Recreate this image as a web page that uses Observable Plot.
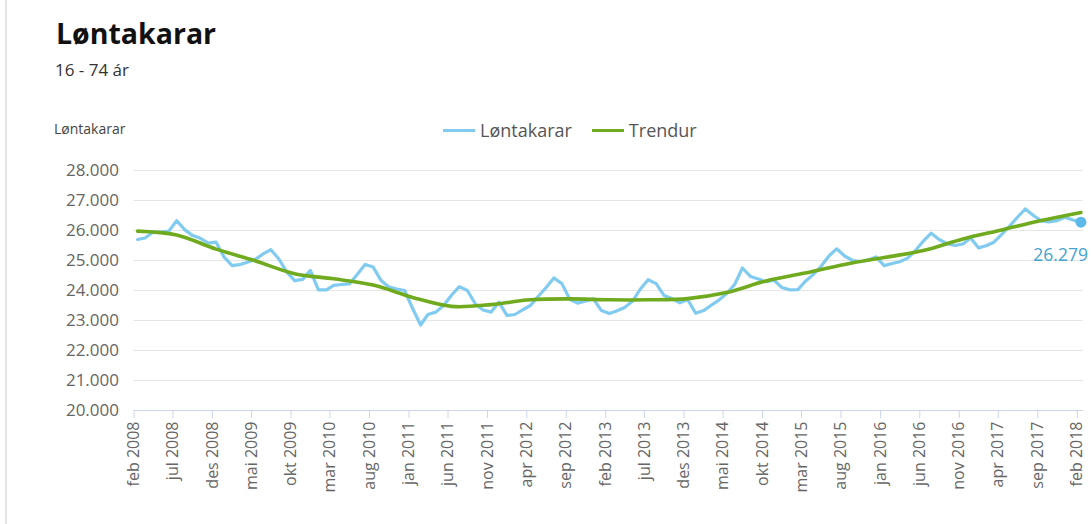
<!DOCTYPE html>
<html><head><meta charset="utf-8">
<script src="https://cdn.jsdelivr.net/npm/d3@7"></script>
<script src="https://cdn.jsdelivr.net/npm/@observablehq/plot@0.6"></script>
<style>
html,body{margin:0;padding:0;background:#fff;}
#wrap{position:relative;width:1092px;height:524px;overflow:hidden;font-family:"Open Sans",sans-serif;}
.bar{position:absolute;left:5px;top:0;width:2px;height:524px;background:#e3e3e3;}
#head{position:relative;height:150px;}
.t{position:absolute;white-space:nowrap;}
#legend{position:absolute;left:443px;top:121px;display:flex;align-items:center;font-size:18px;line-height:18px;color:#555;}
#legend .sw{display:inline-block;width:32px;height:3px;margin-right:5px;}
#legend .item{display:flex;align-items:center;margin-right:20px;}
</style></head><body>
<div id="wrap">
<div class="bar"></div>
<div id="head">
 <div class="t" style="left:56px;top:19px;font-size:28.5px;line-height:28px;font-weight:700;color:#111">Løntakarar</div>
 <div class="t" style="left:55px;top:61px;font-size:17px;line-height:17px;color:#333">16 - 74 ár</div>
 <div class="t" style="left:54px;top:122px;font-size:14px;line-height:14px;color:#444">Løntakarar</div>
 <div id="legend"></div>
</div>
<div id="chart"></div>
</div>
<script>
// ---- data ----
const seriesNames = ["Løntakarar", "Trendur"];
const seriesColors = ["#82cbf0", "#70aa1e"];
const monthNames = ["jan","feb","mar","apr","mai","jun","jul","aug","sep","okt","nov","des"];
const startYear = 2008, startMonth = 1; // feb 2008
// monthly values, feb 2008 .. feb 2018
const lontakarar = [
 25700,25750,25950,25950,25980,26330,26030,25830,25740,25580,25610,
 25110,24830,24860,24940,25030,25220,25360,25050,24610,24330,24370,24670,
 24020,24020,24170,24200,24220,24540,24870,24780,24330,24120,24050,24000,
 23400,22850,23200,23280,23500,23850,24130,24000,23550,23350,23280,23610,
 23170,23200,23350,23500,23800,24100,24420,24230,23700,23580,23650,23720,
 23330,23230,23320,23430,23640,24050,24360,24230,23830,23730,23590,23700,
 23240,23330,23500,23680,23900,24200,24750,24470,24380,24290,24340,24100,
 24020,24030,24300,24530,24800,25150,25390,25150,25000,24960,25020,25120,
 24830,24900,24960,25080,25330,25650,25910,25700,25560,25500,25550,25750,
 25420,25500,25610,25880,26150,26450,26720,26500,26320,26290,26330,26440,
 26350,26279
];
// trend values read every 5 months (feb 2008, jul 2008, ...)
const trendur = [
 25980,25850,25380,24990,24560,24390,24180,23770,23470,23530,23690,23720,
 23690,23690,23730,23930,24320,24580,24870,25100,25330,25720,26020,26330,26600
];
const xTickLabels = [
 "feb 2008","jul 2008","des 2008","mai 2009","okt 2009","mar 2010","aug 2010",
 "jan 2011","jun 2011","nov 2011","apr 2012","sep 2012","feb 2013","jul 2013",
 "des 2013","mai 2014","okt 2014","mar 2015","aug 2015","jan 2016","jun 2016",
 "nov 2016","apr 2017","sep 2017","feb 2018"
];
const yTicks = [20000,21000,22000,23000,24000,25000,26000,27000,28000];
const lastLabel = "26.279";

// ---- build ----
const parseLabel = s => { const [m, y] = s.split(" "); return new Date(Date.UTC(+y, monthNames.indexOf(m), 1)); };
const xTicks = xTickLabels.map(parseLabel);
const mid = i => new Date(Date.UTC(startYear, startMonth + i, 15));
const main = lontakarar.map((v, i) => ({date: mid(i), value: v}));
const trend = trendur.map((v, i) => ({date: mid(i * 5), value: v}));
const last = main[main.length - 1];
const fmtY = d => d3.format(",")(d).replace(/,/g, ".");
const fmtX = d => `${monthNames[d.getUTCMonth()]} ${d.getUTCFullYear()}`;

const leg = document.getElementById("legend");
seriesNames.forEach((n, i) => {
  const it = document.createElement("div"); it.className = "item";
  it.innerHTML = `<span class="sw" style="background:${seriesColors[i]}"></span>${n}`;
  leg.appendChild(it);
});

const chart = Plot.plot({
  width: 1092, height: 374,
  marginTop: 20, marginBottom: 114, marginLeft: 133.5, marginRight: 9,
  style: {fontFamily: "Open Sans", fontSize: "17px", background: "transparent", overflow: "visible"},
  x: {type: "utc", domain: [new Date(Date.UTC(2008,1,1)), new Date(Date.UTC(2018,1,25))]},
  y: {domain: [20000, 28000]},
  marks: [
    Plot.gridY(yTicks, {stroke: "#e6e6e6", strokeOpacity: 1, strokeWidth: 1}),
    Plot.ruleY([20000], {stroke: "#ccd6eb"}),
    Plot.axisY(yTicks, {tickSize: 0, tickPadding: 15, tickFormat: fmtY, fill: "#666", label: null, fontSize: 17}),
    Plot.axisX(xTicks, {tickSize: 8, tickPadding: 3, tickRotate: -90, tickFormat: fmtX, stroke: "#ccd6eb", fill: "#666", label: null, fontSize: 16}),
    Plot.line(main, {x: "date", y: "value", stroke: seriesColors[0], strokeWidth: 3.2, strokeLinejoin: "round"}),
    Plot.line(trend, {x: "date", y: "value", stroke: seriesColors[1], strokeWidth: 3.6, curve: "catmull-rom"}),
    Plot.dot([last], {x: "date", y: "value", r: 5.5, fill: "#5db9ea"}),
    Plot.text([last], {x: "date", y: "value", text: () => lastLabel, dx: 7, dy: 33, textAnchor: "end", fill: "#45a3cf", fontSize: 17.5})
  ]
});
document.getElementById("chart").appendChild(chart);
</script>
</body></html>
